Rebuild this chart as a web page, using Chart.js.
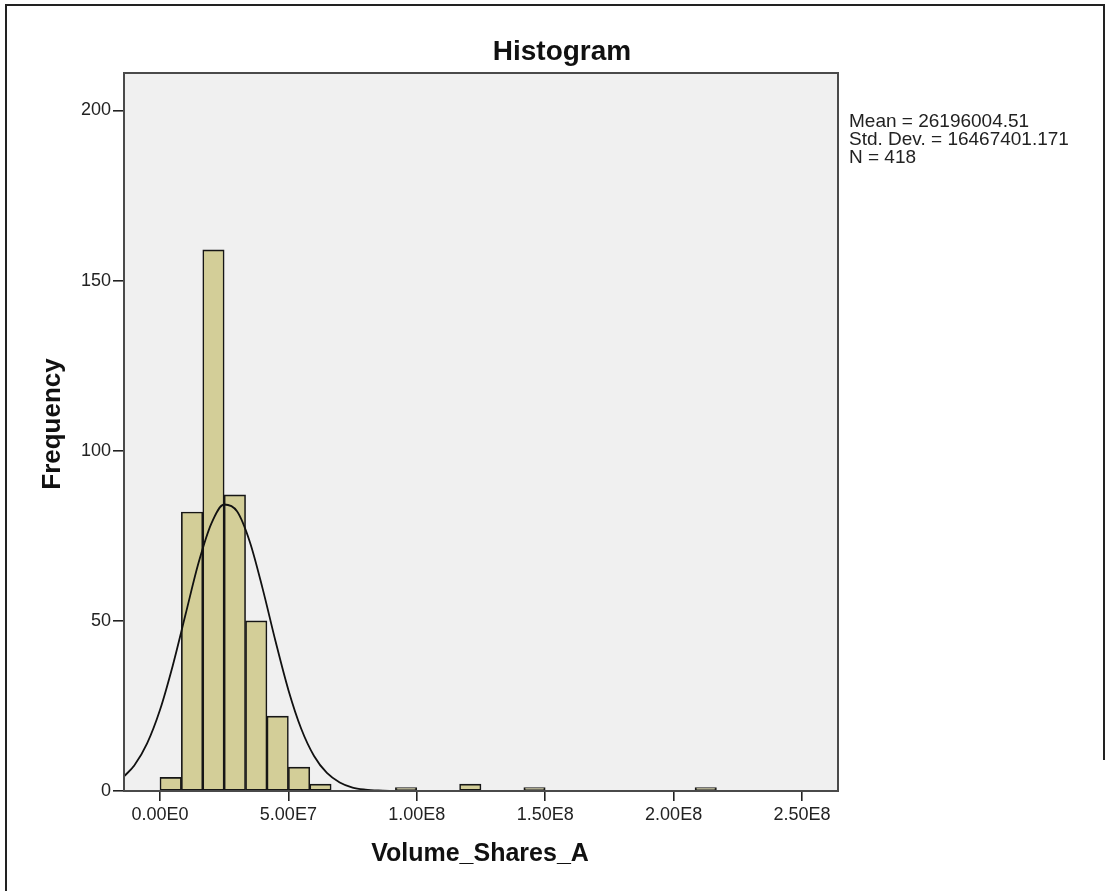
<!DOCTYPE html>
<html>
<head>
<meta charset="utf-8">
<title>Histogram</title>
<script src="https://cdn.jsdelivr.net/npm/chart.js@4.4.1/dist/chart.umd.min.js"></script>
<style>
  html, body { margin: 0; padding: 0; background: #fff; }
  #wrap { width: 1108px; height: 891px; }
</style>
</head>
<body>
<div id="wrap"><canvas id="histograma" width="1108" height="891"></canvas></div>
<script>
// =======================================================================
// DADOS
// =======================================================================
const binStart = 0;
const binWidth = 8333333;
const binCounts = [4, 82, 159, 87, 50, 22, 7, 2, 0, 0, 0, 1, 0, 0, 2, 0, 0, 1, 0, 0, 0, 0, 0, 0, 0, 1];

// curva normal
const curveX = [-14e6, -10e6, -5e6, 0, 5e6, 10e6, 15e6, 20e6, 25e6, 30e6, 35e6, 40e6, 45e6, 50e6, 55e6, 60e6, 65e6, 70e6, 75e6, 80e6, 85e6, 90e6, 100e6, 264e6];
const curveY = [4.3, 7.5, 14.0, 23.8, 36.9, 52.0, 67.0, 78.6, 84.2, 82.2, 73.2, 59.4, 44.0, 29.7, 18.3, 10.3, 5.3, 2.5, 1.0, 0.4, 0.14, 0.05, 0, 0];

const xTicks = [0, 5e7, 1e8, 1.5e8, 2e8, 2.5e8];
const xTickLabels = ["0.00E0", "5.00E7", "1.00E8", "1.50E8", "2.00E8", "2.50E8"];
const yTicks = [0, 50, 100, 150, 200];

const statsLines = ["Mean = 26196004.51", "Std. Dev. = 16467401.171", "N = 418"];

// =======================================================================
// PLUGIN: fundo, moldura e textos
// =======================================================================
const FONTE = "'Liberation Sans', Arial, sans-serif";

const molduraSpss = {
  id: "molduraSpss",
  beforeDraw(chart) {
    const { ctx, chartArea: a } = chart;
    ctx.save();
    ctx.fillStyle = "#f0f0f0";
    ctx.fillRect(a.left, a.top, a.right - a.left, a.bottom - a.top);
    ctx.restore();
  },
  afterDraw(chart) {
    const { ctx, chartArea: a } = chart;
    ctx.save();
    // moldura do grafico
    ctx.strokeStyle = "#4a4a4a";
    ctx.lineWidth = 2;
    ctx.strokeRect(a.left, a.top, a.right - a.left, a.bottom - a.top);

    // moldura externa
    ctx.strokeStyle = "#222";
    ctx.beginPath();
    ctx.moveTo(6, 891);
    ctx.lineTo(6, 5);
    ctx.lineTo(1104, 5);
    ctx.lineTo(1104, 760);
    ctx.stroke();

    ctx.fillStyle = "#111";
    // titulo
    ctx.font = "bold 28px " + FONTE;
    ctx.textAlign = "center";
    ctx.textBaseline = "alphabetic";
    ctx.fillText("Histogram", 562, 60);

    // titulo eixo x
    ctx.font = "bold 25px " + FONTE;
    ctx.fillText("Volume_Shares_A", 480, 861);

    // titulo eixo y
    ctx.save();
    ctx.translate(60, 424);
    ctx.rotate(-Math.PI / 2);
    ctx.font = "bold 26px " + FONTE;
    ctx.fillText("Frequency", 0, 0);
    ctx.restore();

    // estatisticas
    ctx.font = "19px " + FONTE;
    ctx.textAlign = "left";
    ctx.fillStyle = "#222";
    statsLines.forEach((t, i) => ctx.fillText(t, 849, 127 + i * 18));
    ctx.restore();
  },
};

// =======================================================================
// GRAFICO
// =======================================================================
const barras = binCounts.map((c, i) => ({
  x: binStart + (i + 0.5) * binWidth,
  y: c === 0 ? null : c,
}));
const curva = curveX.map((x, i) => ({ x: x, y: curveY[i] }));

const ctx = document.getElementById("histograma").getContext("2d");
new Chart(ctx, {
  type: "bar",
  data: {
    datasets: [
      {
        type: "line",
        data: curva,
        borderColor: "#111",
        borderWidth: 1.8,
        pointRadius: 0,
        cubicInterpolationMode: "monotone",
        fill: false,
        order: 0,
      },
      {
        data: barras,
        backgroundColor: "#d3ce98",
        borderColor: "#161616",
        borderWidth: 1.6,
        borderSkipped: false,
        barPercentage: 1,
        categoryPercentage: 1,
        order: 1,
      },
    ],
  },
  options: {
    responsive: false,
    animation: false,
    layout: { padding: { top: 73, right: 270, left: 0, bottom: 0 } },
    plugins: {
      legend: { display: false },
      tooltip: { enabled: false },
    },
    scales: {
      x: {
        type: "linear",
        min: -14e6,
        max: 264e6,
        offset: false,
        afterFit: (s) => { s.height = 100; },
        afterBuildTicks: (s) => { s.ticks = xTicks.map((v) => ({ value: v })); },
        border: { display: false },
        grid: {
          offset: false,
          drawOnChartArea: false,
          drawTicks: true,
          tickLength: 10,
          color: "#222",
          lineWidth: 1.6,
        },
        ticks: {
          padding: 3,
          color: "#222",
          font: { family: FONTE, size: 18 },
          maxRotation: 0,
          callback: (v) => {
            const i = xTicks.indexOf(v);
            return i >= 0 ? xTickLabels[i] : "";
          },
        },
      },
      y: {
        min: 0,
        max: 211,
        afterFit: (s) => { s.width = 124; },
        afterBuildTicks: (s) => { s.ticks = yTicks.map((v) => ({ value: v })); },
        border: { display: false },
        grid: {
          drawOnChartArea: false,
          drawTicks: true,
          tickLength: 11,
          color: "#222",
          lineWidth: 1.6,
        },
        ticks: {
          padding: 2,
          color: "#222",
          font: { family: FONTE, size: 18 },
        },
      },
    },
  },
  plugins: [molduraSpss],
});
</script>
</body>
</html>
